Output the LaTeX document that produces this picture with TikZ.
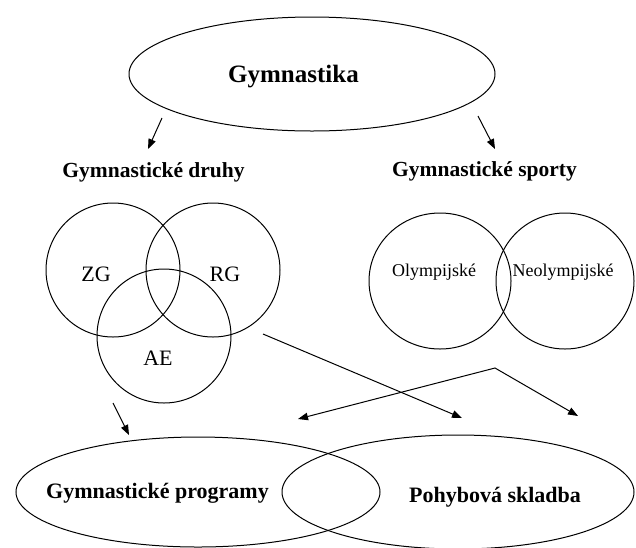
\documentclass[tikz,border=0pt]{standalone}
\usepackage{fontspec}
\setmainfont{Liberation Serif}
\usetikzlibrary{shapes.geometric,arrows.meta}
\begin{document}
\begin{tikzpicture}[x=1pt,y=-1pt,
  oval/.style={draw, ellipse, inner sep=0pt, outer sep=0pt, line width=1pt},
  conn/.style={line width=1pt, -{Triangle[length=10pt,width=7.5pt]}},
  conntwo/.style={line width=1pt, {Triangle[length=10pt,width=7.5pt]}-{Triangle[length=10pt,width=7.5pt]}},
  titlefont/.style={font=\bfseries\fontsize{25}{30}\selectfont, inner sep=0pt, anchor=base},
  headfont/.style={font=\bfseries\fontsize{21.5}{26}\selectfont, inner sep=0pt, anchor=base},
  vennfont/.style={font=\fontsize{22}{26}\selectfont, inner sep=0pt, anchor=base},
  smallfont/.style={font=\fontsize{18}{22}\selectfont, inner sep=0pt, anchor=base}]
\fill[white] (0,0) rectangle (636,547);
\useasboundingbox (0,0) rectangle (636,547);

% top ellipse
\node[oval, minimum width=366pt, minimum height=114pt] (gym) at (312,74) {};
\node[titlefont] (gymt) at (293.5,82) {Gymnastika};

% headings
\node[headfont] (druhy) at (153.5,177) {Gymnastické druhy};
\node[headfont] (sporty) at (484.5,176) {Gymnastické sporty};

% Venn of three
\node[oval, minimum width=134pt, minimum height=134pt] (zg) at (113,270) {};
\node[oval, minimum width=134pt, minimum height=134pt] (rg) at (213,270) {};
\node[oval, minimum width=134pt, minimum height=134pt] (ae) at (164,336) {};
\node[vennfont] (zgt) at (96,281) {ZG};
\node[vennfont] (rgt) at (225,281) {RG};
\node[vennfont] (aet) at (158,365) {AE};

% Olympic circles
\node[oval, minimum width=142pt, minimum height=136pt] (ol) at (440,281) {};
\node[oval, minimum width=138pt, minimum height=136pt] (neo) at (565,281) {};
\node[smallfont] (olt) at (434,276) {Olympijské};
\node[smallfont] (neot) at (563,276) {Neolympijské};

% bottom ellipses
\node[oval, minimum width=364pt, minimum height=110pt] (prog) at (198,492) {};
\node[oval, minimum width=352pt, minimum height=114pt] (skl) at (458,492) {};
\node[headfont, font=\bfseries\fontsize{22}{26}\selectfont] (progt) at (157.5,498) {Gymnastické programy};
\node[headfont, font=\bfseries\fontsize{22}{26}\selectfont] (sklt) at (495,502) {Pohybová skladba};

% arrow end points
\coordinate (a1s) at (162,118);
\coordinate (a1e) at (148,149);
\coordinate (a2s) at (478,116);
\coordinate (a2e) at (495,149);
\coordinate (a3s) at (113,403);
\coordinate (a3e) at (129,435);
\coordinate (a4s) at (263,334);
\coordinate (a4e) at (462,418);
\coordinate (a5l) at (298,419);
\coordinate (a5c) at (495,368);
\coordinate (a5r) at (578,416);

\draw[conn] (a1s) -- (a1e);
\draw[conn] (a2s) -- (a2e);
\draw[conn] (a3s) -- (a3e);
\draw[conn] (a4s) -- (a4e);
\draw[conntwo] (a5l) -- (a5c) -- (a5r);
\end{tikzpicture}
\end{document}
